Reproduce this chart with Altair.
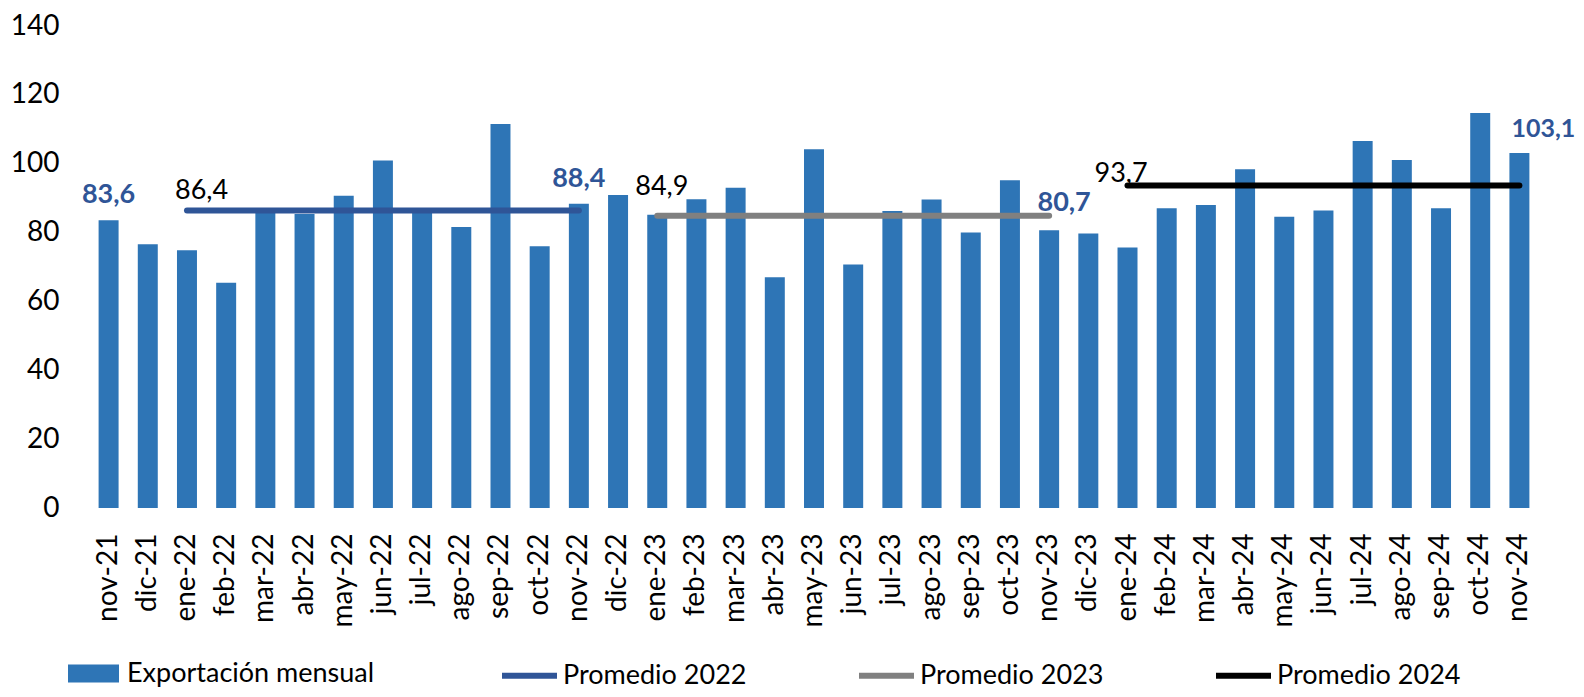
import altair as alt
import pandas as pd

# ---- data ----
months = ["nov-21", "dic-21",
          "ene-22", "feb-22", "mar-22", "abr-22", "may-22", "jun-22", "jul-22",
          "ago-22", "sep-22", "oct-22", "nov-22", "dic-22",
          "ene-23", "feb-23", "mar-23", "abr-23", "may-23", "jun-23", "jul-23",
          "ago-23", "sep-23", "oct-23", "nov-23", "dic-23",
          "ene-24", "feb-24", "mar-24", "abr-24", "may-24", "jun-24", "jul-24",
          "ago-24", "sep-24", "oct-24", "nov-24"]
exports = [83.6, 76.6,
           74.9, 65.4, 87.0, 85.4, 90.7, 100.9, 87.0,
           81.6, 111.5, 76.0, 88.4, 90.9,
           85.2, 89.7, 93.0, 67.0, 104.2, 70.7, 86.3,
           89.6, 80.0, 95.2, 80.7, 79.7,
           75.7, 87.1, 88.0, 98.4, 84.6, 86.4, 106.6,
           101.1, 87.1, 114.7, 103.1]
bar_series = "Exportación mensual"
avg_names = ["Promedio 2022", "Promedio 2023", "Promedio 2024"]
avg_values = [86.4, 84.9, 93.7]
avg_start = ["ene-22", "ene-23", "ene-24"]
avg_end = ["nov-22", "nov-23", "nov-24"]
label_months = ["nov-21", "nov-22", "nov-23", "nov-24"]
y_ticks = [0, 20, 40, 60, 80, 100, 120, 140]

# ---- styles ----
bar_color = "#2E75B6"
avg_colors = ["#2F5597", "#808080", "#000000"]
label_blue = "#2F5597"
FONT = "Lato"


def es(v):
    return f"{v:.1f}".replace(".", ",")


bars_df = pd.DataFrame({"mes": months, "valor": exports, "serie": bar_series})
lines_df = pd.DataFrame({"mes": avg_start + avg_end,
                         "valor": avg_values * 2,
                         "serie": avg_names * 2})
lab_df = bars_df[bars_df["mes"].isin(label_months)].copy()
lab_df["txt"] = [es(v) for v in lab_df["valor"]]
avg_lab_df = pd.DataFrame({"mes": avg_start, "valor": avg_values,
                           "serie": avg_names,
                           "txt": [es(v) for v in avg_values]})

x_enc = alt.X("mes:N",
              scale=alt.Scale(domain=months, paddingInner=0.49, paddingOuter=0.245),
              axis=alt.Axis(title=None, labelAngle=270, labelFontSize=28, labelFont=FONT,
                            labelColor="black", domain=False, ticks=False,
                            labelPadding=25, labelOverlap=False, labelLimit=300))
y_enc = alt.Y("valor:Q",
              scale=alt.Scale(domain=[0, 140], nice=False),
              axis=alt.Axis(title=None, values=y_ticks, labelFontSize=28, labelFont=FONT,
                            labelColor="black", domain=False, ticks=False, grid=False,
                            labelPadding=30))

bars = alt.Chart(bars_df).mark_bar().encode(
    x=x_enc, y=y_enc,
    fill=alt.Fill("serie:N",
                  scale=alt.Scale(domain=[bar_series], range=[bar_color]),
                  legend=alt.Legend(title=None, orient="none", legendX=-21, legendY=622,
                                    symbolType="M-1,-0.35H1V0.35H-1Z", symbolSize=2601,
                                    symbolStrokeWidth=0, labelFontSize=27, labelFont=FONT,
                                    labelColor="black", labelOffset=8, labelLimit=400,
                                    padding=0)),
)

lines = alt.Chart(lines_df).mark_line(strokeWidth=6, strokeCap="round").encode(
    x=x_enc, y=y_enc,
    stroke=alt.Stroke("serie:N",
                      scale=alt.Scale(domain=avg_names, range=avg_colors),
                      legend=alt.Legend(title=None, orient="none", direction="horizontal",
                                        legendX=410, legendY=619, symbolType="stroke",
                                        symbolSize=3025, symbolStrokeWidth=6,
                                        labelFontSize=27, labelFont=FONT, labelColor="black",
                                        labelOffset=3, columnPadding=100, labelLimit=400,
                                        padding=0)),
)


def text_layer(df, color, bold, align, dx, dy, size=27):
    return alt.Chart(df).mark_text(
        align=align, baseline="alphabetic", dx=dx, dy=dy, font=FONT, fontSize=size,
        fontWeight="bold" if bold else "normal", color=color,
    ).encode(x=x_enc, y=y_enc, text="txt:N")


layers = [bars, lines,
          text_layer(lab_df[lab_df["mes"].isin(["nov-21", "nov-22"])], label_blue, True, "center", 0, -17),
          text_layer(lab_df[lab_df["mes"] == "nov-23"], label_blue, True, "center", 15, -19),
          text_layer(lab_df[lab_df["mes"] == "nov-24"], label_blue, True, "left", -8, -16, 25),
          text_layer(avg_lab_df[avg_lab_df["mes"] == "ene-22"], "black", False, "left", -12, -12),
          text_layer(avg_lab_df[avg_lab_df["mes"] == "ene-23"], "black", False, "left", -22, -21),
          text_layer(avg_lab_df[avg_lab_df["mes"] == "ene-24"], "black", False, "left", -33, -3)]

chart = alt.layer(*layers).properties(
    width=1450, height=482,
    autosize=alt.AutoSizeParams(type="none"),
    padding={"left": 81, "top": 18, "right": 37, "bottom": 181},
    background="white",
).configure_view(stroke=None)

chart.save("out.html", embed_options={"renderer": "svg", "actions": False})
